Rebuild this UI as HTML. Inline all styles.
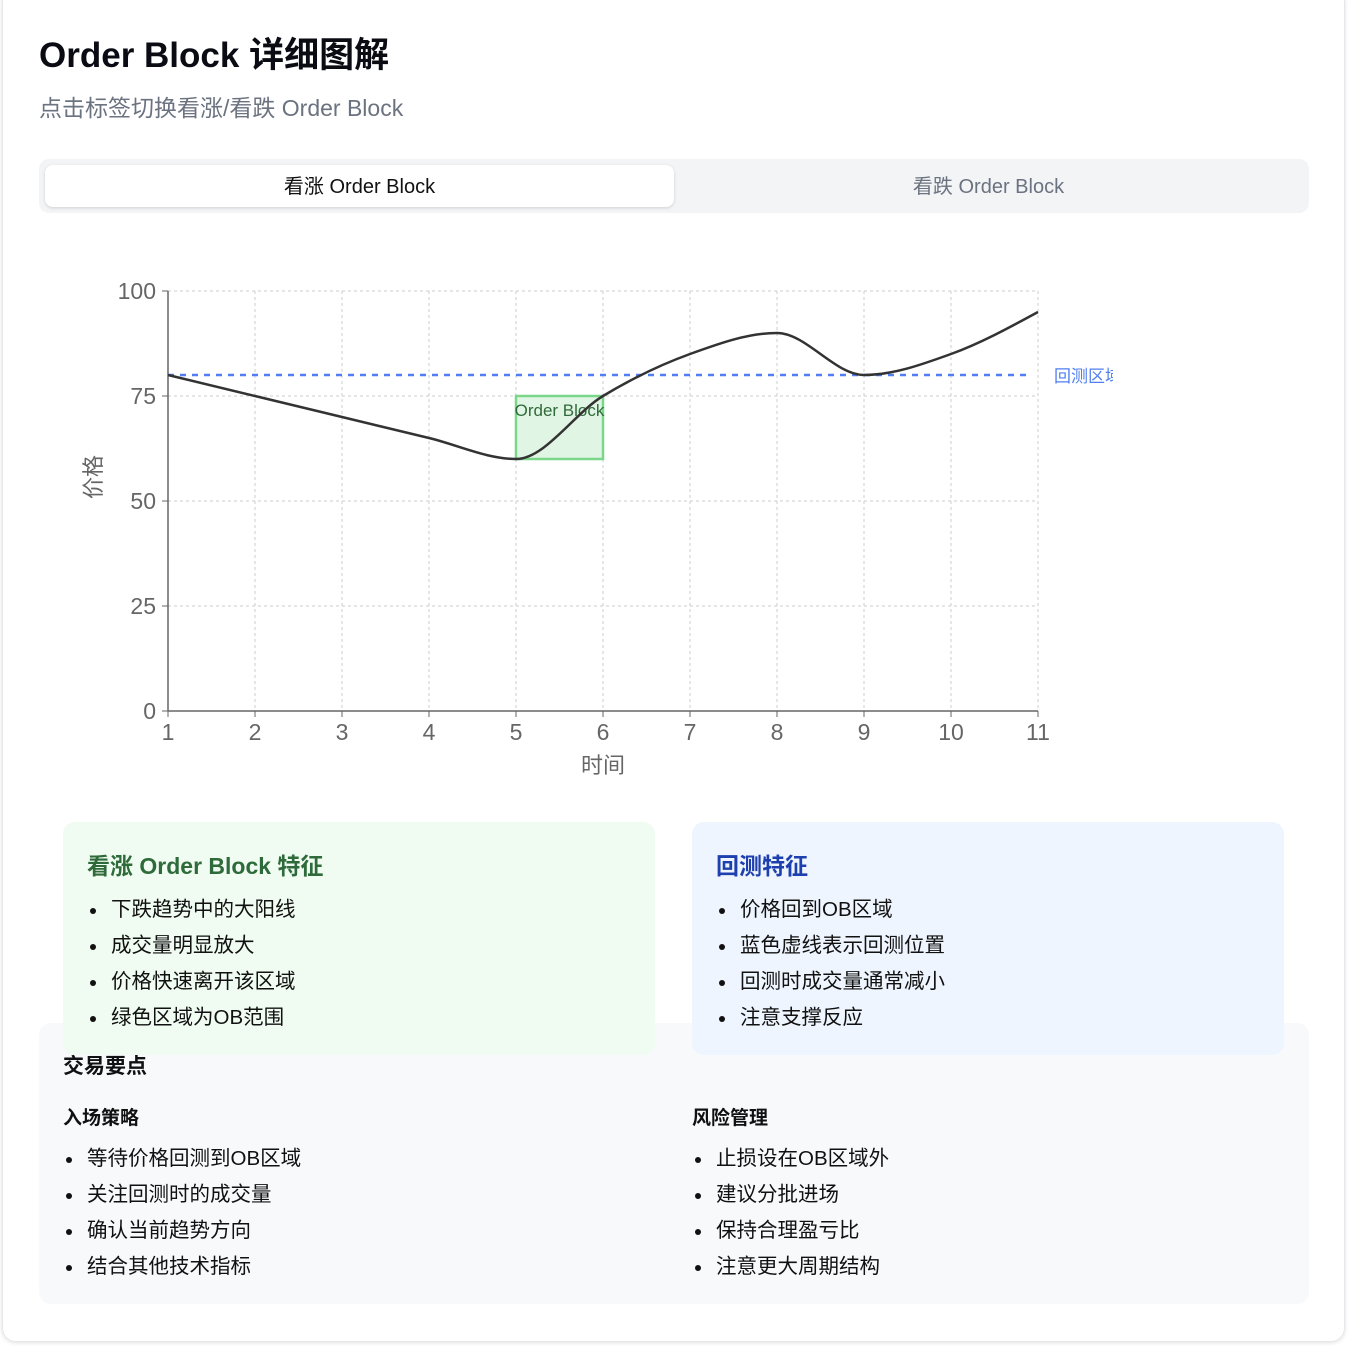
<!DOCTYPE html>
<html><head><meta charset="utf-8">
<style>
*{box-sizing:border-box;margin:0;padding:0}
body{width:1352px;height:1346px;background:#fff;font-family:"Liberation Sans","Noto Sans CJK SC",sans-serif;position:relative;overflow:hidden}
.abs{position:absolute}
.outer{left:2px;top:-12px;width:1343px;height:1354px;border:1px solid #e5e7eb;border-radius:14px;box-shadow:0 1px 4px rgba(0,0,0,.12)}
h1{left:39px;top:27px;font-size:35px;font-weight:bold;color:#0b0b14}
.sub{left:39px;top:89px;font-size:23px;color:#6b7280}
.tabs{left:39px;top:159px;width:1270px;height:54px;background:#f3f4f6;border-radius:10px}
.tab{top:165px;height:42px;line-height:44px;text-align:center;font-size:20px}
.t1{left:45px;width:629px;background:#fff;border-radius:8px;box-shadow:0 1px 3px rgba(0,0,0,.15);color:#111}
.t2{left:674px;width:629px;color:#6b7280}
.card{border-radius:12px}
.card h3{font-size:23px;font-weight:bold;margin:25px 0 0 24px}
ul{list-style:none}
li{position:relative;font-size:20.5px;color:#111;height:36px;line-height:36px;padding-left:24px}
li:before{content:"";position:absolute;left:3px;top:16px;width:6px;height:6px;border-radius:50%;background:#111}
.green{left:63px;top:822px;width:592px;height:233px;background:#f0fbf2}
.blue{left:692px;top:822px;width:592px;height:233px;background:#eef5fe}
.gray{left:39px;top:1023px;width:1270px;height:281px;background:#f8f9fb;border-radius:12px}
</style></head><body>
<div class="abs outer"></div>
<h1 class="abs">Order Block 详细图解</h1>
<div class="abs sub">点击标签切换看涨/看跌 Order Block</div>
<div class="abs tabs"></div>
<div class="abs tab t1">看涨 Order Block</div>
<div class="abs tab t2">看跌 Order Block</div>

<svg class="abs" id="chart" style="left:0;top:0" width="1113" height="800"></svg>

<div class="abs gray">
  <div class="abs" style="left:24px;top:27px;font-size:21px;font-weight:bold;color:#111">交易要点</div>
  <div class="abs" style="left:24px;top:80px;font-size:19px;font-weight:bold;color:#111">入场策略</div>
  <ul class="abs" style="left:24px;top:118px">
    <li>等待价格回测到OB区域</li>
    <li>关注回测时的成交量</li>
    <li>确认当前趋势方向</li>
    <li>结合其他技术指标</li>
  </ul>
  <div class="abs" style="left:653px;top:80px;font-size:19px;font-weight:bold;color:#111">风险管理</div>
  <ul class="abs" style="left:653px;top:118px">
    <li>止损设在OB区域外</li>
    <li>建议分批进场</li>
    <li>保持合理盈亏比</li>
    <li>注意更大周期结构</li>
  </ul>
</div>
<div class="abs card green">
  <h3 style="color:#2f6b3a">看涨 Order Block 特征</h3>
  <ul style="margin:11px 0 0 24px">
    <li>下跌趋势中的大阳线</li>
    <li>成交量明显放大</li>
    <li>价格快速离开该区域</li>
    <li>绿色区域为OB范围</li>
  </ul>
</div>
<div class="abs card blue">
  <h3 style="color:#1e40af">回测特征</h3>
  <ul style="margin:11px 0 0 24px">
    <li>价格回到OB区域</li>
    <li>蓝色虚线表示回测位置</li>
    <li>回测时成交量通常减小</li>
    <li>注意支撑反应</li>
  </ul>
</div>

<script>
const times=[1,2,3,4,5,6,7,8,9,10,11];
const prices=[80,75,70,65,60,75,85,90,80,85,95];
const yTicks=[0,25,50,75,100];
const obRange=[5,6];
const obPrice=[60,75];
const retestLevel=80;
const retestRange=[1,11];

const svg=document.getElementById('chart');
const NS='http://www.w3.org/2000/svg';
const X=v=>168+(v-1)*87;
const Y=v=>711-v*4.2;
function mk(tag,attrs,txt){const e=document.createElementNS(NS,tag);for(const k in attrs)e.setAttribute(k,attrs[k]);if(txt!=null)e.textContent=txt;svg.appendChild(e);return e;}
yTicks.forEach(t=>{
  const g=mk('line',{x1:168,x2:1038,y1:Y(t),y2:Y(t),stroke:'#ccc','stroke-dasharray':'3 3'});
  
  
  const tk=mk('line',{x1:162,x2:168,y1:Y(t),y2:Y(t),stroke:'#666'});
  
  
  const l=mk('text',{x:156,y:Y(t)+8,'text-anchor':'end','font-size':23,fill:'#666'},t);
  
  
});
times.forEach(t=>{
  const g=mk('line',{x1:X(t),x2:X(t),y1:291,y2:711,stroke:'#ccc','stroke-dasharray':'3 3'});
  
  
  const tk=mk('line',{x1:X(t),x2:X(t),y1:711,y2:717,stroke:'#666'});
  
  
  const l=mk('text',{x:X(t),y:740,'text-anchor':'middle','font-size':23,fill:'#666'},t);
  
  
});
const ax=mk('line',{x1:168,x2:1038,y1:711,y2:711,stroke:'#666','stroke-width':1.5});


const ay=mk('line',{x1:168,x2:168,y1:291,y2:711,stroke:'#666','stroke-width':1.5});


const xt=mk('text',{x:603,y:773,'text-anchor':'middle','font-size':22,fill:'#666'},'时间');


const yt=mk('text',{x:0,y:0,'text-anchor':'middle','font-size':22,fill:'#666',transform:'translate(101,477) rotate(-90)'},'价格');


const r=mk('rect',{x:X(obRange[0]),y:Y(obPrice[1]),width:X(obRange[1])-X(obRange[0]),height:Y(obPrice[0])-Y(obPrice[1]),fill:'rgba(120,210,130,0.22)',stroke:'#7ad78a','stroke-width':2.5});


const rl=mk('text',{x:(X(obRange[0])+X(obRange[1]))/2,y:416,'text-anchor':'middle','font-size':17,fill:'#2f6b3a'},'Order Block');


const rt=mk('line',{x1:X(retestRange[0]),x2:X(retestRange[1])-8,y1:Y(retestLevel),y2:Y(retestLevel),stroke:'#4f7ff0','stroke-width':2.5,'stroke-dasharray':'6 6'});


const rtl=mk('text',{x:1054,y:Y(retestLevel)+7,'font-size':17,fill:'#4f7ff0'},'回测区域');


const px=times.map(X),py=prices.map(Y),n=px.length;
const d=[],m=[];
for(let i=0;i<n-1;i++)d.push((py[i+1]-py[i])/(px[i+1]-px[i]));
for(let i=0;i<n;i++){
  if(i===0)m.push(d[0]);else if(i===n-1)m.push(d[n-2]);
  else{const a=d[i-1],b=d[i];if(a*b<=0)m.push(0);else{const h0=px[i]-px[i-1],h1=px[i+1]-px[i];const p=(a*h1+b*h0)/(h0+h1);m.push((Math.sign(a)+Math.sign(b))*Math.min(Math.abs(a),Math.abs(b),0.5*Math.abs(p)));}}
}
m[0]=(3*d[0]-m[1])/2; m[n-1]=(3*d[n-2]-m[n-2])/2;
let path=`M${px[0]},${py[0]}`;
for(let i=0;i<n-1;i++){const h=(px[i+1]-px[i])/3;path+=` C${px[i]+h},${py[i]+m[i]*h} ${px[i+1]-h},${py[i+1]-m[i+1]*h} ${px[i+1]},${py[i+1]}`;}
const ln=mk('path',{d:path,fill:'none',stroke:'#333','stroke-width':2.5});


</script>
</body></html>
